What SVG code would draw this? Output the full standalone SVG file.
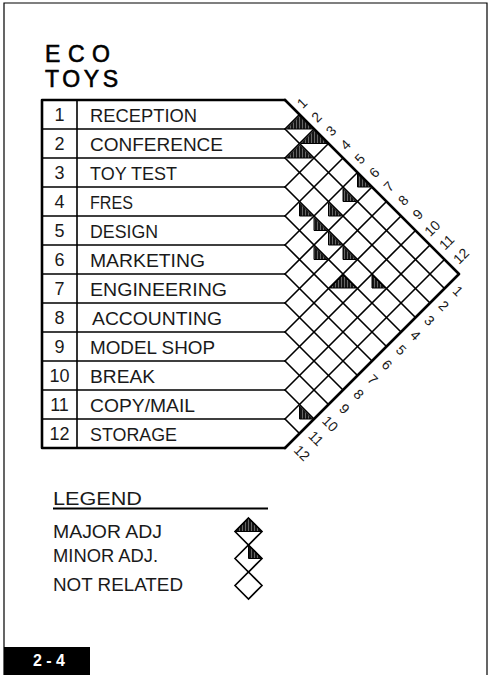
<svg xmlns="http://www.w3.org/2000/svg" width="490" height="675" viewBox="0 0 490 675">
<style>
.t{font-family:"Liberation Sans",Arial,sans-serif;fill:#1a1a1a;font-size:19px}
.n{font-family:"Liberation Sans",Arial,sans-serif;fill:#1a1a1a;font-size:18px;text-anchor:middle}
.d{font-family:"Liberation Sans",Arial,sans-serif;fill:#1a1a1a;font-size:14px;text-anchor:middle;dominant-baseline:central}
.ttl{font-family:"Liberation Sans",Arial,sans-serif;fill:#000;font-size:23px;stroke:#000;stroke-width:0.6}
.g{stroke:#000;stroke-width:1.6;fill:none;stroke-linecap:round}
.thk{stroke:#000;stroke-width:2.6;fill:none;stroke-linecap:round;stroke-linejoin:round}
.sh{fill:url(#hatch);stroke:#000;stroke-width:1}
</style>
<defs>
<pattern id="hatch" patternUnits="userSpaceOnUse" width="3" height="10">
<rect width="3" height="10" fill="#666"/>
<line x1="1" y1="0" x2="1" y2="10" stroke="#000" stroke-width="1.6"/>
</pattern>
</defs>
<rect width="490" height="675" fill="#fff"/>
<path d="M4,675 V3 H487 V675" fill="none" stroke="#000" stroke-width="1.2"/>

<g id="title">
<text class="ttl" x="45" y="62" textLength="65" lengthAdjust="spacing">ECO</text>
<text class="ttl" x="45" y="87" textLength="73" lengthAdjust="spacing">TOYS</text>
</g>

<g id="connectors">
<path class="thk" d="M285,100 H42 V448 H285"/>
<line class="g" x1="77" y1="100" x2="77" y2="448" stroke-width="1.2"/>
<path class="g" d="M42,129H285M42,158H285M42,187H285M42,216H285M42,245H285M42,274H285M42,303H285M42,332H285M42,361H285M42,390H285M42,419H285"/>
<path class="g" d="M285,129L444.5,288.5M285,158L430,303M285,187L415.5,317.5M285,216L401,332M285,245L386.5,346.5M285,274L372,361M285,303L357.5,375.5M285,332L343,390M285,361L328.5,404.5M285,390L314,419M285,419L299.5,433.5"/>
<path class="g" d="M285,129L299.5,114.5M285,158L314,129M285,187L328.5,143.5M285,216L343,158M285,245L357.5,172.5M285,274L372,187M285,303L386.5,201.5M285,332L401,216M285,361L415.5,230.5M285,390L430,245M285,419L444.5,259.5"/>
<path class="thk" d="M285,100L459,274L285,448"/>
</g>

<g id="rows">
<g id="row-1"><text class="n" x="59.5" y="121">1</text><text class="t" x="90" y="121.5" textLength="107" lengthAdjust="spacingAndGlyphs">RECEPTION</text></g>
<g id="row-2"><text class="n" x="59.5" y="150">2</text><text class="t" x="90" y="150.5" textLength="133" lengthAdjust="spacingAndGlyphs">CONFERENCE</text></g>
<g id="row-3"><text class="n" x="59.5" y="179">3</text><text class="t" x="90" y="179.5" textLength="87" lengthAdjust="spacingAndGlyphs">TOY TEST</text></g>
<g id="row-4"><text class="n" x="59.5" y="208">4</text><text class="t" x="90" y="208.5" textLength="43" lengthAdjust="spacingAndGlyphs">FRES</text></g>
<g id="row-5"><text class="n" x="59.5" y="237">5</text><text class="t" x="90" y="237.5" textLength="68" lengthAdjust="spacingAndGlyphs">DESIGN</text></g>
<g id="row-6"><text class="n" x="59.5" y="266">6</text><text class="t" x="90" y="266.5" textLength="115" lengthAdjust="spacingAndGlyphs">MARKETING</text></g>
<g id="row-7"><text class="n" x="59.5" y="295">7</text><text class="t" x="90" y="295.5" textLength="137" lengthAdjust="spacingAndGlyphs">ENGINEERING</text></g>
<g id="row-8"><text class="n" x="59.5" y="324">8</text><text class="t" x="92" y="324.5" textLength="130" lengthAdjust="spacingAndGlyphs">ACCOUNTING</text></g>
<g id="row-9"><text class="n" x="59.5" y="353">9</text><text class="t" x="90" y="353.5" textLength="125" lengthAdjust="spacingAndGlyphs">MODEL SHOP</text></g>
<g id="row-10"><text class="n" x="59.5" y="382">10</text><text class="t" x="90" y="382.5" textLength="65" lengthAdjust="spacingAndGlyphs">BREAK</text></g>
<g id="row-11"><text class="n" x="59.5" y="411">11</text><text class="t" x="90" y="411.5" textLength="105" lengthAdjust="spacingAndGlyphs">COPY/MAIL</text></g>
<g id="row-12"><text class="n" x="59.5" y="440">12</text><text class="t" x="90" y="440.5" textLength="87" lengthAdjust="spacingAndGlyphs">STORAGE</text></g>
</g>

<g id="marks">
<polygon class="sh" points="286.5,129 299.5,116 312.5,129"/>
<polygon class="sh" points="301,143.5 314,130.5 327,143.5"/>
<polygon class="sh" points="286.5,158 299.5,145 312.5,158"/>
<polygon class="sh" points="330,288 343,275 356,288"/>
<polygon class="sh" points="357.5,174 357.5,187 370.5,187"/>
<polygon class="sh" points="343,188.5 343,201.5 356,201.5"/>
<polygon class="sh" points="299.5,203 299.5,216 312.5,216"/>
<polygon class="sh" points="328.5,203 328.5,216 341.5,216"/>
<polygon class="sh" points="314,217.5 314,230.5 327,230.5"/>
<polygon class="sh" points="328.5,232 328.5,245 341.5,245"/>
<polygon class="sh" points="314,246.5 314,259.5 327,259.5"/>
<polygon class="sh" points="343,246.5 343,259.5 356,259.5"/>
<polygon class="sh" points="372,275 372,288 385,288"/>
<polygon class="sh" points="299.5,406 299.5,419 312.5,419"/>
</g>

<g id="top-labels">
<text class="d" transform="translate(302,103) rotate(-45)">1</text>
<text class="d" transform="translate(316.5,116.9) rotate(-45)">2</text>
<text class="d" transform="translate(330.9,130.8) rotate(-45)">3</text>
<text class="d" transform="translate(345.4,144.7) rotate(-45)">4</text>
<text class="d" transform="translate(359.8,158.6) rotate(-45)">5</text>
<text class="d" transform="translate(374.3,172.5) rotate(-45)">6</text>
<text class="d" transform="translate(388.7,186.4) rotate(-45)">7</text>
<text class="d" transform="translate(403.2,200.3) rotate(-45)">8</text>
<text class="d" transform="translate(417.6,214.2) rotate(-45)">9</text>
<text class="d" transform="translate(432.1,228.1) rotate(-45)">10</text>
<text class="d" transform="translate(446.5,242) rotate(-45)">11</text>
<text class="d" transform="translate(461,255.9) rotate(-45)">12</text>
</g>

<g id="bottom-labels">
<text class="d" transform="translate(458,291) rotate(45)">1</text>
<text class="d" transform="translate(443.8,305.7) rotate(45)">2</text>
<text class="d" transform="translate(429.6,320.5) rotate(45)">3</text>
<text class="d" transform="translate(415.5,335.2) rotate(45)">4</text>
<text class="d" transform="translate(401.3,349.9) rotate(45)">5</text>
<text class="d" transform="translate(387.1,364.6) rotate(45)">6</text>
<text class="d" transform="translate(372.9,379.4) rotate(45)">7</text>
<text class="d" transform="translate(358.7,394.1) rotate(45)">8</text>
<text class="d" transform="translate(344.6,408.8) rotate(45)">9</text>
<text class="d" transform="translate(330.4,423.6) rotate(45)">10</text>
<text class="d" transform="translate(316.2,438.3) rotate(45)">11</text>
<text class="d" transform="translate(302,453) rotate(45)">12</text>
</g>

<g id="legend">
<text class="t" x="53" y="505" textLength="89" lengthAdjust="spacingAndGlyphs">LEGEND</text>
<line x1="53" y1="508.5" x2="268" y2="508.5" stroke="#000" stroke-width="2"/>
<text class="t" x="53" y="538" textLength="109" lengthAdjust="spacingAndGlyphs">MAJOR ADJ</text>
<text class="t" x="53" y="562" textLength="105" lengthAdjust="spacingAndGlyphs">MINOR ADJ.</text>
<text class="t" x="53" y="591" textLength="130" lengthAdjust="spacingAndGlyphs">NOT RELATED</text>
<g id="legend-major">
<polygon class="sh" points="235,531.5 248.5,518 262,531.5"/>
<polygon class="g" points="248.5,518 262,531.5 248.5,545 235,531.5"/>
</g>
<g id="legend-minor">
<polygon class="sh" points="248.5,545 248.5,558.5 262,558.5"/>
<polygon class="g" points="248.5,545 262,558.5 248.5,572 235,558.5"/>
</g>
<g id="legend-none">
<polygon class="g" points="248.5,572 262,585.5 248.5,599 235,585.5"/>
</g>
</g>

<g id="footer">
<rect x="4" y="647" width="86" height="28" fill="#000"/>
<text x="49" y="666" font-family="Liberation Sans, Arial, sans-serif" font-size="16" font-weight="bold" fill="#fff" text-anchor="middle">2 - 4</text>
</g>
</svg>
